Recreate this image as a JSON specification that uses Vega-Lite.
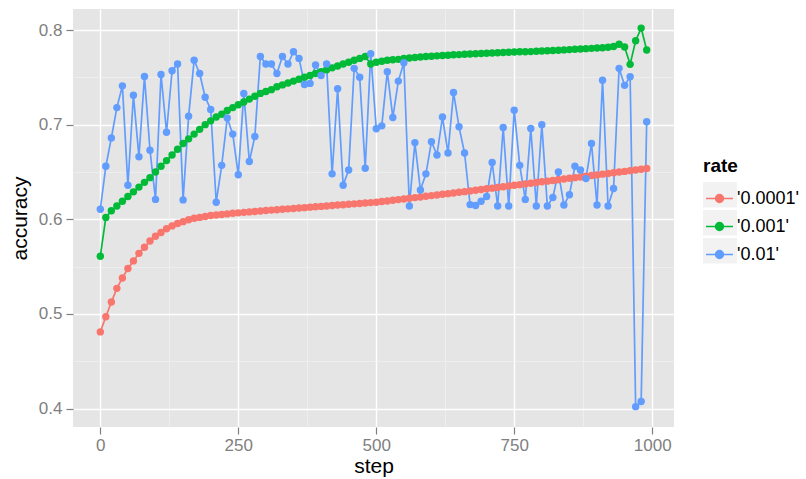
{
"$schema": "https://vega.github.io/schema/vega-lite/v6.json",
"width": 601, "height": 418,
"autosize": {"type": "none"},
"padding": {"left": 73, "top": 9, "right": 132, "bottom": 52},
"background": "white",
"config": {
 "view": {"fill": "#E5E5E5", "stroke": null},
 "font": "Liberation Sans",
 "axis": {"domain": false, "tickColor": "#7F7F7F", "labelColor": "#7F7F7F", "labelFontSize": 17, "titleFontSize": 21, "titleFontWeight": "normal", "titleColor": "black", "tickSize": 7, "tickWidth": 1.2}
},
"data": {"values": [
{"step":0,"accuracy":0.481,"rate":"'0.0001'"},{"step":10,"accuracy":0.497,"rate":"'0.0001'"},{"step":20,"accuracy":0.5125,"rate":"'0.0001'"},{"step":30,"accuracy":0.527,"rate":"'0.0001'"},{"step":40,"accuracy":0.538,"rate":"'0.0001'"},{"step":50,"accuracy":0.548,"rate":"'0.0001'"},{"step":60,"accuracy":0.556,"rate":"'0.0001'"},{"step":70,"accuracy":0.564,"rate":"'0.0001'"},{"step":80,"accuracy":0.5705,"rate":"'0.0001'"},{"step":90,"accuracy":0.577,"rate":"'0.0001'"},
{"step":100,"accuracy":0.582,"rate":"'0.0001'"},{"step":110,"accuracy":0.586,"rate":"'0.0001'"},{"step":120,"accuracy":0.59,"rate":"'0.0001'"},{"step":130,"accuracy":0.593,"rate":"'0.0001'"},{"step":140,"accuracy":0.5955,"rate":"'0.0001'"},{"step":150,"accuracy":0.5975,"rate":"'0.0001'"},{"step":160,"accuracy":0.5995,"rate":"'0.0001'"},{"step":170,"accuracy":0.601,"rate":"'0.0001'"},{"step":180,"accuracy":0.602,"rate":"'0.0001'"},{"step":190,"accuracy":0.603,"rate":"'0.0001'"},
{"step":200,"accuracy":0.604,"rate":"'0.0001'"},{"step":210,"accuracy":0.6045,"rate":"'0.0001'"},{"step":220,"accuracy":0.605,"rate":"'0.0001'"},{"step":230,"accuracy":0.6057,"rate":"'0.0001'"},{"step":240,"accuracy":0.6063,"rate":"'0.0001'"},{"step":250,"accuracy":0.6068,"rate":"'0.0001'"},{"step":260,"accuracy":0.6073,"rate":"'0.0001'"},{"step":270,"accuracy":0.6078,"rate":"'0.0001'"},{"step":280,"accuracy":0.6083,"rate":"'0.0001'"},{"step":290,"accuracy":0.6088,"rate":"'0.0001'"},
{"step":300,"accuracy":0.6092,"rate":"'0.0001'"},{"step":310,"accuracy":0.6097,"rate":"'0.0001'"},{"step":320,"accuracy":0.6101,"rate":"'0.0001'"},{"step":330,"accuracy":0.6106,"rate":"'0.0001'"},{"step":340,"accuracy":0.611,"rate":"'0.0001'"},{"step":350,"accuracy":0.6114,"rate":"'0.0001'"},{"step":360,"accuracy":0.6119,"rate":"'0.0001'"},{"step":370,"accuracy":0.6123,"rate":"'0.0001'"},{"step":380,"accuracy":0.6128,"rate":"'0.0001'"},{"step":390,"accuracy":0.6132,"rate":"'0.0001'"},
{"step":400,"accuracy":0.6136,"rate":"'0.0001'"},{"step":410,"accuracy":0.6141,"rate":"'0.0001'"},{"step":420,"accuracy":0.6145,"rate":"'0.0001'"},{"step":430,"accuracy":0.615,"rate":"'0.0001'"},{"step":440,"accuracy":0.6154,"rate":"'0.0001'"},{"step":450,"accuracy":0.6158,"rate":"'0.0001'"},{"step":460,"accuracy":0.6163,"rate":"'0.0001'"},{"step":470,"accuracy":0.6167,"rate":"'0.0001'"},{"step":480,"accuracy":0.6172,"rate":"'0.0001'"},{"step":490,"accuracy":0.6176,"rate":"'0.0001'"},
{"step":500,"accuracy":0.618,"rate":"'0.0001'"},{"step":510,"accuracy":0.6187,"rate":"'0.0001'"},{"step":520,"accuracy":0.6194,"rate":"'0.0001'"},{"step":530,"accuracy":0.6201,"rate":"'0.0001'"},{"step":540,"accuracy":0.6208,"rate":"'0.0001'"},{"step":550,"accuracy":0.6215,"rate":"'0.0001'"},{"step":560,"accuracy":0.6222,"rate":"'0.0001'"},{"step":570,"accuracy":0.6229,"rate":"'0.0001'"},{"step":580,"accuracy":0.6236,"rate":"'0.0001'"},{"step":590,"accuracy":0.6243,"rate":"'0.0001'"},
{"step":600,"accuracy":0.625,"rate":"'0.0001'"},{"step":610,"accuracy":0.6257,"rate":"'0.0001'"},{"step":620,"accuracy":0.6264,"rate":"'0.0001'"},{"step":630,"accuracy":0.6271,"rate":"'0.0001'"},{"step":640,"accuracy":0.6278,"rate":"'0.0001'"},{"step":650,"accuracy":0.6285,"rate":"'0.0001'"},{"step":660,"accuracy":0.6292,"rate":"'0.0001'"},{"step":670,"accuracy":0.63,"rate":"'0.0001'"},{"step":680,"accuracy":0.6307,"rate":"'0.0001'"},{"step":690,"accuracy":0.6315,"rate":"'0.0001'"},
{"step":700,"accuracy":0.6322,"rate":"'0.0001'"},{"step":710,"accuracy":0.6329,"rate":"'0.0001'"},{"step":720,"accuracy":0.6337,"rate":"'0.0001'"},{"step":730,"accuracy":0.6344,"rate":"'0.0001'"},{"step":740,"accuracy":0.6351,"rate":"'0.0001'"},{"step":750,"accuracy":0.6359,"rate":"'0.0001'"},{"step":760,"accuracy":0.6366,"rate":"'0.0001'"},{"step":770,"accuracy":0.6374,"rate":"'0.0001'"},{"step":780,"accuracy":0.6381,"rate":"'0.0001'"},{"step":790,"accuracy":0.6388,"rate":"'0.0001'"},
{"step":800,"accuracy":0.6396,"rate":"'0.0001'"},{"step":810,"accuracy":0.6403,"rate":"'0.0001'"},{"step":820,"accuracy":0.641,"rate":"'0.0001'"},{"step":830,"accuracy":0.6418,"rate":"'0.0001'"},{"step":840,"accuracy":0.6425,"rate":"'0.0001'"},{"step":850,"accuracy":0.6433,"rate":"'0.0001'"},{"step":860,"accuracy":0.644,"rate":"'0.0001'"},{"step":870,"accuracy":0.6447,"rate":"'0.0001'"},{"step":880,"accuracy":0.6455,"rate":"'0.0001'"},{"step":890,"accuracy":0.6462,"rate":"'0.0001'"},
{"step":900,"accuracy":0.6469,"rate":"'0.0001'"},{"step":910,"accuracy":0.6477,"rate":"'0.0001'"},{"step":920,"accuracy":0.6484,"rate":"'0.0001'"},{"step":930,"accuracy":0.6492,"rate":"'0.0001'"},{"step":940,"accuracy":0.6499,"rate":"'0.0001'"},{"step":950,"accuracy":0.6506,"rate":"'0.0001'"},{"step":960,"accuracy":0.6514,"rate":"'0.0001'"},{"step":970,"accuracy":0.6521,"rate":"'0.0001'"},{"step":980,"accuracy":0.6529,"rate":"'0.0001'"},{"step":990,"accuracy":0.6536,"rate":"'0.0001'"},
{"step":0,"accuracy":0.561,"rate":"'0.001'"},{"step":10,"accuracy":0.602,"rate":"'0.001'"},{"step":20,"accuracy":0.609,"rate":"'0.001'"},{"step":30,"accuracy":0.614,"rate":"'0.001'"},{"step":40,"accuracy":0.619,"rate":"'0.001'"},{"step":50,"accuracy":0.624,"rate":"'0.001'"},{"step":60,"accuracy":0.629,"rate":"'0.001'"},{"step":70,"accuracy":0.634,"rate":"'0.001'"},{"step":80,"accuracy":0.639,"rate":"'0.001'"},{"step":90,"accuracy":0.644,"rate":"'0.001'"},
{"step":100,"accuracy":0.65,"rate":"'0.001'"},{"step":110,"accuracy":0.656,"rate":"'0.001'"},{"step":120,"accuracy":0.662,"rate":"'0.001'"},{"step":130,"accuracy":0.668,"rate":"'0.001'"},{"step":140,"accuracy":0.674,"rate":"'0.001'"},{"step":150,"accuracy":0.68,"rate":"'0.001'"},{"step":160,"accuracy":0.685,"rate":"'0.001'"},{"step":170,"accuracy":0.69,"rate":"'0.001'"},{"step":180,"accuracy":0.695,"rate":"'0.001'"},{"step":190,"accuracy":0.7,"rate":"'0.001'"},
{"step":200,"accuracy":0.704,"rate":"'0.001'"},{"step":210,"accuracy":0.708,"rate":"'0.001'"},{"step":220,"accuracy":0.711,"rate":"'0.001'"},{"step":230,"accuracy":0.715,"rate":"'0.001'"},{"step":240,"accuracy":0.718,"rate":"'0.001'"},{"step":250,"accuracy":0.721,"rate":"'0.001'"},{"step":260,"accuracy":0.724,"rate":"'0.001'"},{"step":270,"accuracy":0.727,"rate":"'0.001'"},{"step":280,"accuracy":0.73,"rate":"'0.001'"},{"step":290,"accuracy":0.733,"rate":"'0.001'"},
{"step":300,"accuracy":0.735,"rate":"'0.001'"},{"step":310,"accuracy":0.737,"rate":"'0.001'"},{"step":320,"accuracy":0.74,"rate":"'0.001'"},{"step":330,"accuracy":0.742,"rate":"'0.001'"},{"step":340,"accuracy":0.744,"rate":"'0.001'"},{"step":350,"accuracy":0.746,"rate":"'0.001'"},{"step":360,"accuracy":0.748,"rate":"'0.001'"},{"step":370,"accuracy":0.75,"rate":"'0.001'"},{"step":380,"accuracy":0.752,"rate":"'0.001'"},{"step":390,"accuracy":0.754,"rate":"'0.001'"},
{"step":400,"accuracy":0.756,"rate":"'0.001'"},{"step":410,"accuracy":0.758,"rate":"'0.001'"},{"step":420,"accuracy":0.76,"rate":"'0.001'"},{"step":430,"accuracy":0.762,"rate":"'0.001'"},{"step":440,"accuracy":0.764,"rate":"'0.001'"},{"step":450,"accuracy":0.766,"rate":"'0.001'"},{"step":460,"accuracy":0.768,"rate":"'0.001'"},{"step":470,"accuracy":0.77,"rate":"'0.001'"},{"step":480,"accuracy":0.772,"rate":"'0.001'"},{"step":490,"accuracy":0.764,"rate":"'0.001'"},
{"step":500,"accuracy":0.766,"rate":"'0.001'"},{"step":510,"accuracy":0.767,"rate":"'0.001'"},{"step":520,"accuracy":0.768,"rate":"'0.001'"},{"step":530,"accuracy":0.7685,"rate":"'0.001'"},{"step":540,"accuracy":0.769,"rate":"'0.001'"},{"step":550,"accuracy":0.77,"rate":"'0.001'"},{"step":560,"accuracy":0.7705,"rate":"'0.001'"},{"step":570,"accuracy":0.771,"rate":"'0.001'"},{"step":580,"accuracy":0.7715,"rate":"'0.001'"},{"step":590,"accuracy":0.772,"rate":"'0.001'"},
{"step":600,"accuracy":0.7723,"rate":"'0.001'"},{"step":610,"accuracy":0.7727,"rate":"'0.001'"},{"step":620,"accuracy":0.773,"rate":"'0.001'"},{"step":630,"accuracy":0.7734,"rate":"'0.001'"},{"step":640,"accuracy":0.7738,"rate":"'0.001'"},{"step":650,"accuracy":0.774,"rate":"'0.001'"},{"step":660,"accuracy":0.7743,"rate":"'0.001'"},{"step":670,"accuracy":0.7746,"rate":"'0.001'"},{"step":680,"accuracy":0.775,"rate":"'0.001'"},{"step":690,"accuracy":0.7752,"rate":"'0.001'"},
{"step":700,"accuracy":0.7755,"rate":"'0.001'"},{"step":710,"accuracy":0.7757,"rate":"'0.001'"},{"step":720,"accuracy":0.776,"rate":"'0.001'"},{"step":730,"accuracy":0.7762,"rate":"'0.001'"},{"step":740,"accuracy":0.7765,"rate":"'0.001'"},{"step":750,"accuracy":0.7767,"rate":"'0.001'"},{"step":760,"accuracy":0.777,"rate":"'0.001'"},{"step":770,"accuracy":0.777,"rate":"'0.001'"},{"step":780,"accuracy":0.7772,"rate":"'0.001'"},{"step":790,"accuracy":0.7775,"rate":"'0.001'"},
{"step":800,"accuracy":0.7778,"rate":"'0.001'"},{"step":810,"accuracy":0.778,"rate":"'0.001'"},{"step":820,"accuracy":0.7783,"rate":"'0.001'"},{"step":830,"accuracy":0.7786,"rate":"'0.001'"},{"step":840,"accuracy":0.779,"rate":"'0.001'"},{"step":850,"accuracy":0.7793,"rate":"'0.001'"},{"step":860,"accuracy":0.7796,"rate":"'0.001'"},{"step":870,"accuracy":0.78,"rate":"'0.001'"},{"step":880,"accuracy":0.7803,"rate":"'0.001'"},{"step":890,"accuracy":0.7806,"rate":"'0.001'"},
{"step":900,"accuracy":0.781,"rate":"'0.001'"},{"step":910,"accuracy":0.7813,"rate":"'0.001'"},{"step":920,"accuracy":0.7818,"rate":"'0.001'"},{"step":930,"accuracy":0.7825,"rate":"'0.001'"},{"step":940,"accuracy":0.785,"rate":"'0.001'"},{"step":950,"accuracy":0.782,"rate":"'0.001'"},{"step":960,"accuracy":0.7637,"rate":"'0.001'"},{"step":970,"accuracy":0.7887,"rate":"'0.001'"},{"step":980,"accuracy":0.802,"rate":"'0.001'"},{"step":990,"accuracy":0.7788,"rate":"'0.001'"},
{"step":0,"accuracy":0.6106,"rate":"'0.01'"},{"step":10,"accuracy":0.656,"rate":"'0.01'"},{"step":20,"accuracy":0.686,"rate":"'0.01'"},{"step":30,"accuracy":0.718,"rate":"'0.01'"},{"step":40,"accuracy":0.741,"rate":"'0.01'"},{"step":50,"accuracy":0.636,"rate":"'0.01'"},{"step":60,"accuracy":0.731,"rate":"'0.01'"},{"step":70,"accuracy":0.666,"rate":"'0.01'"},{"step":80,"accuracy":0.751,"rate":"'0.01'"},{"step":90,"accuracy":0.673,"rate":"'0.01'"},
{"step":100,"accuracy":0.621,"rate":"'0.01'"},{"step":110,"accuracy":0.753,"rate":"'0.01'"},{"step":120,"accuracy":0.692,"rate":"'0.01'"},{"step":130,"accuracy":0.757,"rate":"'0.01'"},{"step":140,"accuracy":0.764,"rate":"'0.01'"},{"step":150,"accuracy":0.6205,"rate":"'0.01'"},{"step":160,"accuracy":0.709,"rate":"'0.01'"},{"step":170,"accuracy":0.768,"rate":"'0.01'"},{"step":180,"accuracy":0.754,"rate":"'0.01'"},{"step":190,"accuracy":0.729,"rate":"'0.01'"},
{"step":200,"accuracy":0.716,"rate":"'0.01'"},{"step":210,"accuracy":0.618,"rate":"'0.01'"},{"step":220,"accuracy":0.657,"rate":"'0.01'"},{"step":230,"accuracy":0.707,"rate":"'0.01'"},{"step":240,"accuracy":0.69,"rate":"'0.01'"},{"step":250,"accuracy":0.647,"rate":"'0.01'"},{"step":260,"accuracy":0.733,"rate":"'0.01'"},{"step":270,"accuracy":0.661,"rate":"'0.01'"},{"step":280,"accuracy":0.6875,"rate":"'0.01'"},{"step":290,"accuracy":0.772,"rate":"'0.01'"},
{"step":300,"accuracy":0.764,"rate":"'0.01'"},{"step":310,"accuracy":0.764,"rate":"'0.01'"},{"step":320,"accuracy":0.754,"rate":"'0.01'"},{"step":330,"accuracy":0.772,"rate":"'0.01'"},{"step":340,"accuracy":0.764,"rate":"'0.01'"},{"step":350,"accuracy":0.777,"rate":"'0.01'"},{"step":360,"accuracy":0.77,"rate":"'0.01'"},{"step":370,"accuracy":0.7425,"rate":"'0.01'"},{"step":380,"accuracy":0.7436,"rate":"'0.01'"},{"step":390,"accuracy":0.763,"rate":"'0.01'"},
{"step":400,"accuracy":0.752,"rate":"'0.01'"},{"step":410,"accuracy":0.764,"rate":"'0.01'"},{"step":420,"accuracy":0.648,"rate":"'0.01'"},{"step":430,"accuracy":0.738,"rate":"'0.01'"},{"step":440,"accuracy":0.636,"rate":"'0.01'"},{"step":450,"accuracy":0.652,"rate":"'0.01'"},{"step":460,"accuracy":0.7595,"rate":"'0.01'"},{"step":470,"accuracy":0.75,"rate":"'0.01'"},{"step":480,"accuracy":0.654,"rate":"'0.01'"},{"step":490,"accuracy":0.775,"rate":"'0.01'"},
{"step":500,"accuracy":0.6956,"rate":"'0.01'"},{"step":510,"accuracy":0.6987,"rate":"'0.01'"},{"step":520,"accuracy":0.756,"rate":"'0.01'"},{"step":530,"accuracy":0.7076,"rate":"'0.01'"},{"step":540,"accuracy":0.746,"rate":"'0.01'"},{"step":550,"accuracy":0.7654,"rate":"'0.01'"},{"step":560,"accuracy":0.614,"rate":"'0.01'"},{"step":570,"accuracy":0.681,"rate":"'0.01'"},{"step":580,"accuracy":0.631,"rate":"'0.01'"},{"step":590,"accuracy":0.648,"rate":"'0.01'"},
{"step":600,"accuracy":0.682,"rate":"'0.01'"},{"step":610,"accuracy":0.668,"rate":"'0.01'"},{"step":620,"accuracy":0.708,"rate":"'0.01'"},{"step":630,"accuracy":0.67,"rate":"'0.01'"},{"step":640,"accuracy":0.734,"rate":"'0.01'"},{"step":650,"accuracy":0.6977,"rate":"'0.01'"},{"step":660,"accuracy":0.67,"rate":"'0.01'"},{"step":670,"accuracy":0.6155,"rate":"'0.01'"},{"step":680,"accuracy":0.6145,"rate":"'0.01'"},{"step":690,"accuracy":0.619,"rate":"'0.01'"},
{"step":700,"accuracy":0.624,"rate":"'0.01'"},{"step":710,"accuracy":0.66,"rate":"'0.01'"},{"step":720,"accuracy":0.614,"rate":"'0.01'"},{"step":730,"accuracy":0.697,"rate":"'0.01'"},{"step":740,"accuracy":0.614,"rate":"'0.01'"},{"step":750,"accuracy":0.7153,"rate":"'0.01'"},{"step":760,"accuracy":0.657,"rate":"'0.01'"},{"step":770,"accuracy":0.621,"rate":"'0.01'"},{"step":780,"accuracy":0.696,"rate":"'0.01'"},{"step":790,"accuracy":0.614,"rate":"'0.01'"},
{"step":800,"accuracy":0.7,"rate":"'0.01'"},{"step":810,"accuracy":0.614,"rate":"'0.01'"},{"step":820,"accuracy":0.623,"rate":"'0.01'"},{"step":830,"accuracy":0.65,"rate":"'0.01'"},{"step":840,"accuracy":0.615,"rate":"'0.01'"},{"step":850,"accuracy":0.626,"rate":"'0.01'"},{"step":860,"accuracy":0.656,"rate":"'0.01'"},{"step":870,"accuracy":0.652,"rate":"'0.01'"},{"step":880,"accuracy":0.643,"rate":"'0.01'"},{"step":890,"accuracy":0.68,"rate":"'0.01'"},
{"step":900,"accuracy":0.615,"rate":"'0.01'"},{"step":910,"accuracy":0.747,"rate":"'0.01'"},{"step":920,"accuracy":0.614,"rate":"'0.01'"},{"step":930,"accuracy":0.6325,"rate":"'0.01'"},{"step":940,"accuracy":0.7595,"rate":"'0.01'"},{"step":950,"accuracy":0.7415,"rate":"'0.01'"},{"step":960,"accuracy":0.7506,"rate":"'0.01'"},{"step":970,"accuracy":0.402,"rate":"'0.01'"},{"step":980,"accuracy":0.4074,"rate":"'0.01'"},{"step":990,"accuracy":0.703,"rate":"'0.01'"}
]},
"encoding": {
 "x": {"field": "step", "type": "quantitative",
  "scale": {"domain": [-49.5, 1039.5], "nice": false, "zero": false},
  "axis": {"values": [0,125,250,375,500,625,750,875,1000], "format": "d",
   "labelExpr": "datum.value % 250 === 0 ? datum.label : ''",
   "tickOpacity": {"condition": {"test": "datum.value % 250 === 0", "value": 1}, "value": 0},
   "gridColor": {"condition": {"test": "datum.value % 250 === 0", "value": "#FFFFFF"}, "value": "#F2F2F2"},
   "gridWidth": {"condition": {"test": "datum.value % 250 === 0", "value": 1.4}, "value": 0.7},
   "labelPadding": 3, "titlePadding": 2, "title": "step"}},
 "y": {"field": "accuracy", "type": "quantitative",
  "scale": {"domain": [0.3805, 0.8222], "nice": false, "zero": false},
  "axis": {"values": [0.4,0.45,0.5,0.55,0.6,0.65,0.7,0.75,0.8], "format": ".1f",
   "labelExpr": "abs(datum.value*10 - round(datum.value*10)) < 0.01 ? datum.label : ''",
   "tickOpacity": {"condition": {"test": "abs(datum.value*10 - round(datum.value*10)) < 0.01", "value": 1}, "value": 0},
   "gridColor": {"condition": {"test": "abs(datum.value*10 - round(datum.value*10)) < 0.01", "value": "#FFFFFF"}, "value": "#F2F2F2"},
   "gridWidth": {"condition": {"test": "abs(datum.value*10 - round(datum.value*10)) < 0.01", "value": 1.4}, "value": 0.7},
   "labelPadding": 4, "titlePadding": 8, "title": "accuracy"}},
 "color": {"field": "rate", "type": "nominal",
  "scale": {"domain": ["'0.0001'", "'0.001'", "'0.01'"], "range": ["#F8766D", "#00BA38", "#619CFF"]},
  "legend": {"orient": "none", "legendX": 630, "legendY": 148, "title": "rate",
   "titleFontSize": 19, "titleFontWeight": "bold", "titleColor": "black", "titlePadding": 6,
   "labelFontSize": 18, "labelColor": "black", "labelOffset": 1,
   "symbolType": "M-0.87,0L0.87,0M0.25,0A0.25,0.25,0,1,1,-0.25,0A0.25,0.25,0,1,1,0.25,0Z",
   "symbolSize": 961, "symbolStrokeWidth": 1.6, "rowPadding": 2,
   "encode": {
    "entries": {"update": {"fill": {"value": {"gradient": "linear", "x1": 0, "y1": 0, "x2": 1, "y2": 0, "stops": [{"offset": 0, "color": "#F2F2F2"}, {"offset": 0.35, "color": "#F2F2F2"}, {"offset": 0.35, "color": "#FFFFFF"}, {"offset": 1, "color": "#FFFFFF"}]}}}},
    "symbols": {"update": {"fill": {"scale": "color", "field": "value"}, "stroke": {"scale": "color", "field": "value"}, "opacity": {"value": 1}}}}}}
},
"layer": [
 {"mark": {"type": "line", "strokeWidth": 1.7}},
 {"mark": {"type": "point", "filled": true, "size": 55, "opacity": 1}}
]
}
